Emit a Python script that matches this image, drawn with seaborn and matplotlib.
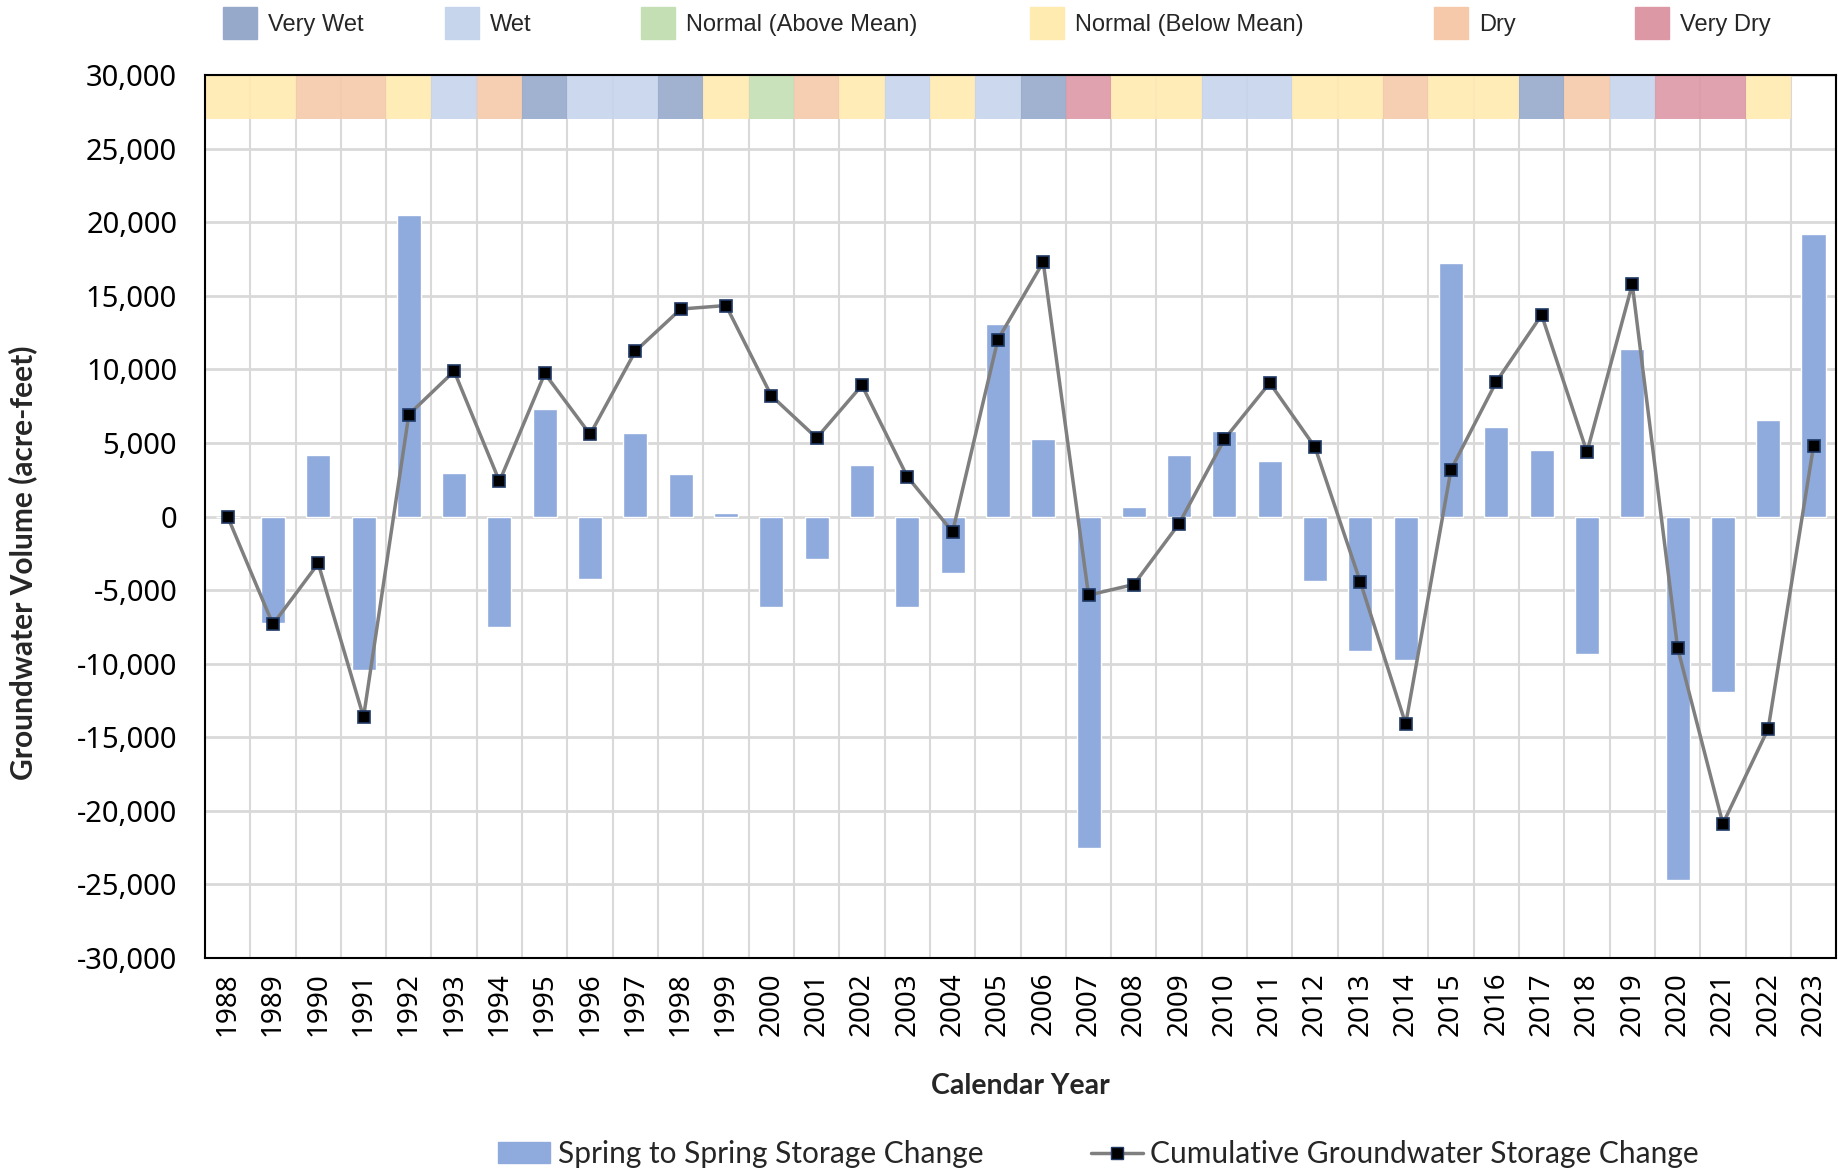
import numpy as np
import pandas as pd
import seaborn as sns
import matplotlib
import matplotlib.pyplot as plt
from matplotlib.patches import Rectangle
from matplotlib.lines import Line2D
from matplotlib.ticker import FuncFormatter
matplotlib.use('Agg')

# lata
years = [str(y) for y in range(1988, 2024)]

# zmiana zasobu wiosna-wiosna (acre-feet)
spring_change = [0, -7250, 4150, -10440, 20480, 2950, -7490, 7330, -4220, 5660,
                 2870, 240, -6130, -2870, 3500, -6130, -3820, 13070, 5260, -22550,
                 640, 4150, 5820, 3750, -4380, -9160, -9720, 17210, 6060, 4540,
                 -9320, 11390, -24700, -11950, 6530, 19200]

# skumulowana zmiana zasobu (acre-feet)
cumulative = [0, -7330, -3190, -13630, 6930, 9880, 2390, 9720, 5580, 11240,
              14100, 14340, 8210, 5340, 8920, 2710, -1040, 12030, 17290, -5340,
              -4620, -480, 5260, 9080, 4700, -4460, -14100, 3190, 9160, 13700,
              4380, 15780, -8920, -20880, -14420, 4780]

# typ roku hydrologicznego
year_type = ["NB", "NB", "D", "D", "NB", "W", "D", "VW", "W", "W",
             "VW", "NB", "NA", "D", "NB", "W", "NB", "W", "VW", "VD",
             "NB", "NB", "W", "W", "NB", "NB", "D", "NB", "NB", "VW",
             "D", "W", "VD", "VD", "NB", ""]

type_codes = ["VW", "W", "NA", "NB", "D", "VD"]
type_labels = ["Very Wet", "Wet", "Normal (Above Mean)", "Normal (Below Mean)", "Dry", "Very Dry"]
type_colors = ["#97A9CB", "#C6D4EC", "#C5DFB5", "#FFEAB0", "#F6C9AA", "#DC98A5"]
color_map = dict(zip(type_codes, type_colors))

df = pd.DataFrame({"year": years, "change": spring_change, "cum": cumulative})

sns.set_style("white")
plt.rcParams['font.family'] = ['Noto Sans', 'DejaVu Sans']

fig = plt.figure(figsize=(18.38, 11.73), dpi=100)
ax = fig.add_axes([0.1115, 0.1833, 0.8875, 0.7527])

# pasek z typem roku na górze
x = np.arange(len(years))
band_x = [i for i, t in enumerate(year_type) if t]
band_c = [color_map[year_type[i]] for i in band_x]
ax.bar(band_x, 3000, bottom=27000, width=1.0, color=band_c, alpha=0.9, zorder=1, linewidth=0)

# słupki
sns.barplot(data=df, x="year", y="change", color="#8FAADC", saturation=1,
            width=0.53, ax=ax, zorder=2)

# linia skumulowana
ax.plot(x, df["cum"], color="#7F7F7F", linewidth=2.5, zorder=3,
        marker="s", markersize=9, markerfacecolor="black",
        markeredgecolor="#1F3864", markeredgewidth=1.2)

ax.set_xlim(-0.5, len(years) - 0.5)
ax.set_ylim(-30000, 30000)
ax.set_yticks(np.arange(-30000, 30001, 5000))
ax.yaxis.set_major_formatter(FuncFormatter(lambda v, p: f"{int(v):,}"))
ax.set_xticks(np.arange(-0.5, len(years), 1), minor=True)
ax.grid(axis="y", color="#D9D9D9", linewidth=2)
ax.grid(axis="x", which="minor", color="#D9D9D9", linewidth=1.5)
ax.grid(axis="x", which="major", visible=False)
ax.set_axisbelow(True)
ax.tick_params(axis="both", which="both", length=0, labelsize=20, colors="black")
ax.tick_params(axis="y", labelsize=21, pad=20)
ax.tick_params(axis="x", rotation=90, pad=10)
for s in ax.spines.values():
    s.set_color("black")
    s.set_linewidth(1.5)

ax.set_xlabel("Calendar Year", fontsize=20.5, fontweight="bold", family="Lato", labelpad=27)
ax.set_ylabel("Groundwater Volume (acre-feet)", fontsize=21.5, fontweight="bold", family="Lato")
ax.yaxis.set_label_coords(-0.103, 0.448)

# legenda górna
leg_x = [223, 445, 641, 1030, 1434, 1635]
for lx, lab, col in zip(leg_x, type_labels, type_colors):
    fig.patches.append(Rectangle((lx / 1838, 1 - 39 / 1173), 34 / 1838, 32 / 1173,
                                 transform=fig.transFigure, color=col))
    fig.text((lx + 45) / 1838, 1 - 25 / 1173, lab, fontsize=17, va="center",
             family="Liberation Sans")

# legenda dolna
handles = [Rectangle((0, 0), 1, 1, color="#8FAADC"),
           Line2D([0], [0], color="#7F7F7F", linewidth=2.5, marker="s", markersize=9,
                  markerfacecolor="black", markeredgecolor="#1F3864")]
fig.legend(handles, ["Spring to Spring Storage Change", "Cumulative Groundwater Storage Change"],
           loc="center", bbox_to_anchor=(0.5976, 0.016), ncol=2, frameon=False,
           prop={"family": "Lato", "size": 21.5}, handlelength=1.75, handletextpad=0.25,
           columnspacing=3.6)

fig.savefig("out.png", dpi=100)
